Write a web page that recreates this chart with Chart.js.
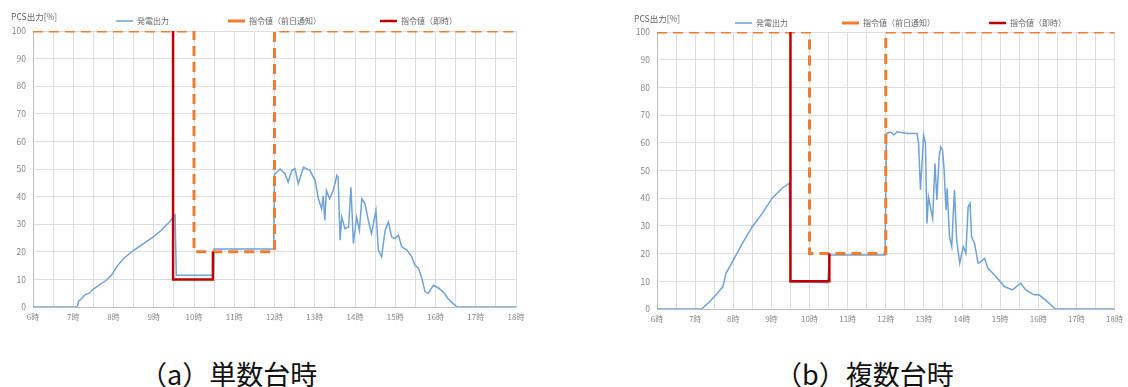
<!DOCTYPE html>
<html>
<head>
<meta charset="utf-8">
<script src="https://cdn.jsdelivr.net/npm/chart.js@4/dist/chart.umd.min.js"></script>
<style>
  body { margin: 0; width: 1128px; height: 387px; background: #fff; overflow: hidden; position: relative; }
  canvas { position: absolute; }
  .ttl { position: absolute; font: 8.5px "Noto Sans CJK JP", sans-serif; line-height: 12px; color: #666; white-space: nowrap; }
  .cap { position: absolute; font: 27px "Noto Sans CJK JP", sans-serif; line-height: 30px; color: #111; white-space: nowrap; }
</style>
</head>
<body>
<canvas id="chartA" width="560" height="374" style="left:0px; top:-42px"></canvas>
<canvas id="chartB" width="528" height="369" style="left:600px; top:-35px"></canvas>
<div class="ttl" style="left:11px; top:10px">PCS出力[%]</div>
<div class="ttl" style="left:634px; top:12px">PCS出力[%]</div>
<div class="cap" style="left:140px; top:359px">（a）単数台時</div>
<div class="cap" style="left:775px; top:359px">（b）複数台時</div>
<script>
// legend / series names
const seriesNames = ['発電出力', '指令値（前日通知）', '指令値（即時）'];

// (a) single unit - generation output
const hoursA = [6.00, 7.10, 7.13, 7.20, 7.30, 7.40, 7.50, 7.65, 7.80, 7.95, 8.10, 8.25, 8.45, 8.70, 9.00, 9.20, 9.40, 9.53, 9.56,
  10.48, 10.50, 11.98, 12.00, 12.14, 12.26, 12.34, 12.43, 12.51, 12.59, 12.72, 12.88, 13.01, 13.09, 13.17, 13.21, 13.25,
  13.29, 13.37, 13.46, 13.55, 13.58, 13.63, 13.67, 13.75, 13.84, 13.90, 13.96, 14.04, 14.11, 14.17, 14.25, 14.33, 14.41,
  14.52, 14.58, 14.66, 14.75, 14.83, 14.91, 14.99, 15.08, 15.16, 15.29, 15.41, 15.49, 15.58, 15.66, 15.74, 15.82, 15.95,
  16.08, 16.19, 16.31, 16.48, 16.54, 18.00];
const outputA = [0, 0, 2, 3, 4.5, 5, 6.5, 8, 9.5, 11.5, 15, 17.5, 20, 22.5, 25.5, 28, 31, 33.3, 11.5,
  11.5, 21, 21, 48, 50, 48.3, 45.2, 49.5, 50.1, 44.7, 50.6, 49.5, 45.8, 39.2, 35.6, 40.4, 31.4,
  42.2, 39.2, 42.2, 47.7, 47, 24.2, 32.6, 28.4, 29, 43.4, 23, 32.6, 27.8, 39.2, 37.4, 31.4, 26.6,
  35, 20.6, 18.2, 27.8, 30.8, 25.4, 24.8, 26, 21.8, 20.6, 18.2, 15.2, 14, 10.4, 5.5, 5, 7.9,
  6.8, 5.5, 3.1, 0.7, 0, 0];
const dayAheadHoursA = [6, 10, 10, 12, 12, 18];
const dayAheadA = [100, 100, 20, 20, 100, 100];
const instantHoursA = [9.48, 9.48, 10.47, 10.47];
const instantA = [100, 10, 10, 20];

// (b) multiple units - generation output
const hoursB = [6.00, 7.17, 7.38, 7.55, 7.73, 7.81, 7.98, 8.24, 8.50, 8.76, 9.02, 9.28, 9.47, 9.50, 10.48, 10.52, 11.98,
  12.02, 12.13, 12.21, 12.30, 12.56, 12.82, 12.86, 12.91, 12.95, 12.99, 13.04, 13.08, 13.12, 13.17, 13.23, 13.29, 13.34,
  13.40, 13.44, 13.49, 13.53, 13.58, 13.61, 13.67, 13.73, 13.80, 13.86, 13.94, 14.03, 14.10, 14.16, 14.21, 14.25, 14.33,
  14.42, 14.50, 14.59, 14.68, 14.89, 15.11, 15.32, 15.54, 15.67, 15.89, 16.02, 16.19, 16.45, 18.00];
const outputB = [0, 0, 2.6, 5.1, 8.1, 12.9, 17.1, 23.7, 29.7, 34.5, 40, 43.6, 45.4, 9.8, 9.5, 19.5, 19.5,
  63.4, 63.9, 62.8, 64, 63.4, 63.4, 59.8, 43, 52.6, 62.8, 59.8, 30.9, 40.5, 36.9, 32.7, 52.6, 39.4,
  55, 58.6, 57.4, 50.2, 35.7, 43.6, 26.1, 22.5, 43, 24.9, 16.5, 22.5, 20.1, 36.9, 38.2, 26.1, 23.7,
  16.5, 17.1, 18.3, 14.7, 11.7, 8.1, 6.9, 9.3, 6.9, 5.1, 5.1, 3.2, 0, 0];
const dayAheadHoursB = [6, 10, 10, 12, 12, 18];
const dayAheadB = [100, 100, 20, 20, 100, 100];
const instantHoursB = [9.5, 9.5, 10.52, 10.52];
const instantB = [100, 10, 10, 20];

const xTicks = { min: 6, max: 18, step: 0.5 };
const yTicks = { min: 0, max: 100, step: 10 };

const FONT = '"Noto Sans CJK JP", sans-serif';

function pts(xs, ys) {
  return xs.map(function (x, i) { return { x: x, y: ys[i] }; });
}

function makeChart(id, d, yWidth, legendPad, legendMax, padRight) {
  const ctx = document.getElementById(id).getContext('2d');
  return new Chart(ctx, {
    type: 'line',
    data: {
      datasets: [{
        label: seriesNames[0],
        data: pts(d.hours, d.output),
        borderColor: '#6fa3d8',
        backgroundColor: '#6fa3d8',
        borderWidth: 1.5,
        pointRadius: 0,
        order: 3
      }, {
        label: seriesNames[1],
        data: pts(d.dayAheadHours, d.dayAhead),
        borderColor: '#ed7d31',
        backgroundColor: '#ed7d31',
        borderWidth: 3,
        borderDash: [10, 6],
        pointRadius: 0,
        order: 2
      }, {
        label: seriesNames[2],
        data: pts(d.instantHours, d.instant),
        borderColor: '#c00000',
        backgroundColor: '#c00000',
        borderWidth: 2.5,
        pointRadius: 0,
        order: 1
      }]
    },
    options: {
      responsive: false,
      animation: false,
      devicePixelRatio: 1,
      layout: { padding: { top: 0, left: 0, right: padRight, bottom: 0 } },
      plugins: {
        tooltip: { enabled: false },
        legend: {
          position: 'top',
          align: 'end',
          maxHeight: legendMax,
          labels: {
            boxWidth: 17,
            boxHeight: 0,
            padding: legendPad,
            color: '#666',
            font: { size: 8, family: FONT },
            sort: function (a, b) { return a.datasetIndex - b.datasetIndex; }
          }
        }
      },
      scales: {
        x: {
          type: 'linear',
          min: xTicks.min,
          max: xTicks.max,
          ticks: {
            stepSize: xTicks.step,
            autoSkip: false,
            maxRotation: 0,
            padding: 5,
            color: '#888',
            font: { size: 8, family: FONT },
            callback: function (v) { return Number.isInteger(v) ? v + '時' : ''; }
          },
          grid: { color: '#dedede', drawTicks: false },
          border: { color: '#bfbfbf' },
          afterFit: function (s) { s.height = 25; }
        },
        y: {
          min: yTicks.min,
          max: yTicks.max,
          ticks: {
            stepSize: yTicks.step,
            padding: 7,
            color: '#888',
            font: { size: 8.5, family: FONT }
          },
          grid: { color: '#dedede', drawTicks: false },
          border: { color: '#bfbfbf' },
          afterFit: function (s) { s.width = yWidth; }
        }
      }
    }
  });
}

makeChart('chartA', {
  hours: hoursA, output: outputA,
  dayAheadHours: dayAheadHoursA, dayAhead: dayAheadA,
  instantHours: instantHoursA, instant: instantA
}, 33, 59, 73, 44);

makeChart('chartB', {
  hours: hoursB, output: outputB,
  dayAheadHours: dayAheadHoursB, dayAhead: dayAheadB,
  instantHours: instantHoursB, instant: instantB
}, 57, 54, 67, 8);
</script>
</body>
</html>
